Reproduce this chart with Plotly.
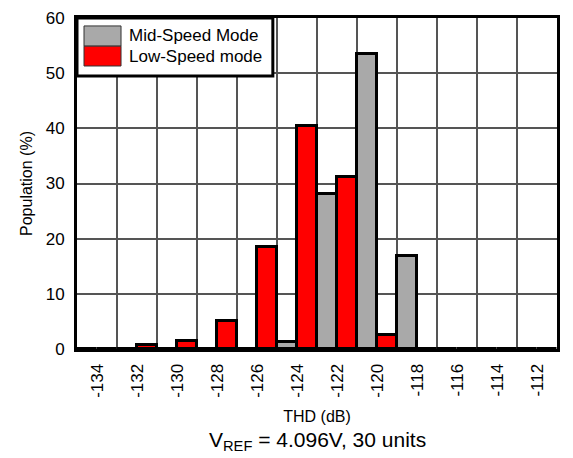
import plotly.graph_objects as go

# Data
thd_bins = [-134, -132, -130, -128, -126, -124, -122, -120, -118, -116, -114, -112]
tick_labels = [str(v) for v in thd_bins]
mid_speed = [0, 0, 0, 0, 0, 1.3, 28.1, 53.4, 16.8, 0, 0, 0]
low_speed = [0, 0.7, 1.5, 5.1, 18.4, 40.5, 31.2, 2.5, 0, 0, 0, 0]
series_names = ["Mid-Speed Mode", "Low-Speed mode"]
series_colors = ["#a9a9a9", "#ff0000"]

FONT = "Liberation Sans, Arial, sans-serif"

fig = go.Figure()
for name, vals, col in zip(series_names, [mid_speed, low_speed], series_colors):
    fig.add_trace(go.Bar(
        x=thd_bins, y=vals, name=name,
        marker=dict(color=col, line=dict(color="black", width=3)),
        showlegend=False,
    ))

fig.update_layout(
    width=573, height=458,
    margin=dict(l=77, r=16, t=18, b=109),
    paper_bgcolor="white", plot_bgcolor="white",
    barmode="group", bargap=0, bargroupgap=0,
    font=dict(family=FONT, size=15, color="black"),
)

fig.update_xaxes(
    range=[-135, -111],
    tickmode="array", tickvals=thd_bins, ticktext=tick_labels,
    tickangle=-90, tickfont=dict(size=17),
    ticks="", showgrid=False,
    minor=dict(tick0=-135, dtick=2, showgrid=True, gridcolor="#555555", gridwidth=1.5, ticks=""),
    showline=True, linecolor="black", linewidth=3, mirror=True,
    zeroline=False,
    ticklabelstandoff=5,
    title=dict(text="THD (dB)", font=dict(size=16), standoff=14),
    automargin=False,
)
fig.update_yaxes(
    range=[0, 60], dtick=10, tick0=0,
    tickfont=dict(size=17),
    ticks="", showgrid=True, gridcolor="#555555", gridwidth=1.5,
    showline=True, linecolor="black", linewidth=3, mirror=True,
    zeroline=False,
    ticklabelstandoff=6,
    title=dict(text="Population (%)", font=dict(size=16), standoff=10),
    automargin=False,
)

# Manual legend (box, swatches, labels)
fig.add_shape(type="rect", xref="paper", yref="paper", x0=0, x1=0.408, y0=0.825, y1=1,
              fillcolor="white", line=dict(color="black", width=3), layer="above")
sw_y = [(0.915, 0.976), (0.855, 0.915)]
txt_y = [0.946, 0.885]
for (y0, y1), ty, name, col in zip(sw_y, txt_y, series_names, series_colors):
    fig.add_shape(type="rect", xref="paper", yref="paper", x0=0.0146, x1=0.0917, y0=y0, y1=y1,
                  fillcolor=col, line=dict(color="#333333", width=1), layer="above")
    fig.add_annotation(xref="paper", yref="paper", x=0.104, y=ty, text=name, showarrow=False,
                       xanchor="left", yanchor="middle", font=dict(size=17))

fig.add_annotation(xref="paper", yref="paper", x=0.5, y=-0.278, yanchor="middle",
                   text="V<sub>REF</sub> = 4.096V, 30 units", showarrow=False,
                   font=dict(size=21))

fig.write_html("out.html", config={"displayModeBar": False},
               post_script="document.body.style.margin='0';")
